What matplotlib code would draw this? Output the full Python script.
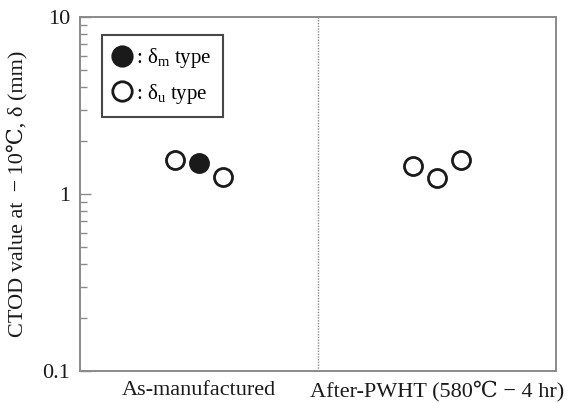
import matplotlib
matplotlib.use('Agg')
import matplotlib.pyplot as plt
from matplotlib.lines import Line2D

# data
conditions = ['As-manufactured', 'After-PWHT (580℃ − 4 hr)']
offsets = [-0.1, 0.0, 0.1]
ctod_as = [1.56, 1.49, 1.24]
type_as = ['u', 'm', 'u']
ctod_pwht = [1.44, 1.23, 1.56]
type_pwht = ['u', 'u', 'u']

plt.rcParams['font.family'] = ['Liberation Serif', 'DejaVu Serif']
plt.rcParams['mathtext.fontset'] = 'custom'
plt.rcParams['mathtext.rm'] = 'Liberation Serif'
plt.rcParams['mathtext.it'] = 'Liberation Serif:italic'

fig = plt.figure(figsize=(5.74, 4.03), dpi=100)
ax = fig.add_axes([0.1394, 0.0794, 0.8292, 0.8784])

spine_col = '#8a8a8a'
for s in ax.spines.values():
    s.set_color(spine_col)
    s.set_linewidth(1.4)

for i, (vals, kinds) in enumerate([(ctod_as, type_as), (ctod_pwht, type_pwht)]):
    for off, v, k in zip(offsets, vals, kinds):
        face = '#1a1a1a' if k == 'm' else 'white'
        ax.plot(i + 0.5 + off, v, 'o', ms=13, mfc=face, mec='#1a1a1a', mew=2.0, zorder=3)

ax.axvline(1.0, color=spine_col, lw=1.0, ls=(0, (1, 1)))

ax.set_yscale('log')
ax.set_ylim(0.1, 10)
ax.set_xlim(0, 2)
ax.set_yticks([0.1, 1, 10])
ax.set_yticklabels(['0.1', '1', '10'])
ax.set_xticks([0.5, 1.5])
ax.set_xticklabels(conditions)
ax.tick_params(axis='x', length=0, labelsize=16, pad=7, colors='#1a1a1a')
ax.tick_params(axis='y', which='major', direction='in', length=8, width=1.0,
               color=spine_col, labelsize=16, pad=7, labelcolor='#1a1a1a')
ax.tick_params(axis='y', which='minor', direction='in', length=5, width=1.0,
               color=spine_col)
ax.set_ylabel('CTOD value at \u2009−\u200910℃, δ (mm)', fontsize=16, color='#1a1a1a', labelpad=11)

handles = [
    Line2D([], [], ls='none', marker='o', ms=14, mfc='#1a1a1a', mec='#1a1a1a', mew=2.0),
    Line2D([], [], ls='none', marker='o', ms=14, mfc='white', mec='#1a1a1a', mew=2.0),
]
labels = [r': $\mathrm{δ}_\mathrm{m}$ type', r': $\mathrm{δ}_\mathrm{u}$ type']
leg = ax.legend(handles, labels, loc='upper left', bbox_to_anchor=(0.046, 0.95),
                fontsize=15, frameon=True, fancybox=False, handlelength=0.8,
                handletextpad=0.3, borderpad=0.55, labelspacing=0.55,
                borderaxespad=0)
leg.get_frame().set_edgecolor('#1a1a1a')
leg.get_frame().set_linewidth(1.5)

plt.savefig('out.png', dpi=100)
